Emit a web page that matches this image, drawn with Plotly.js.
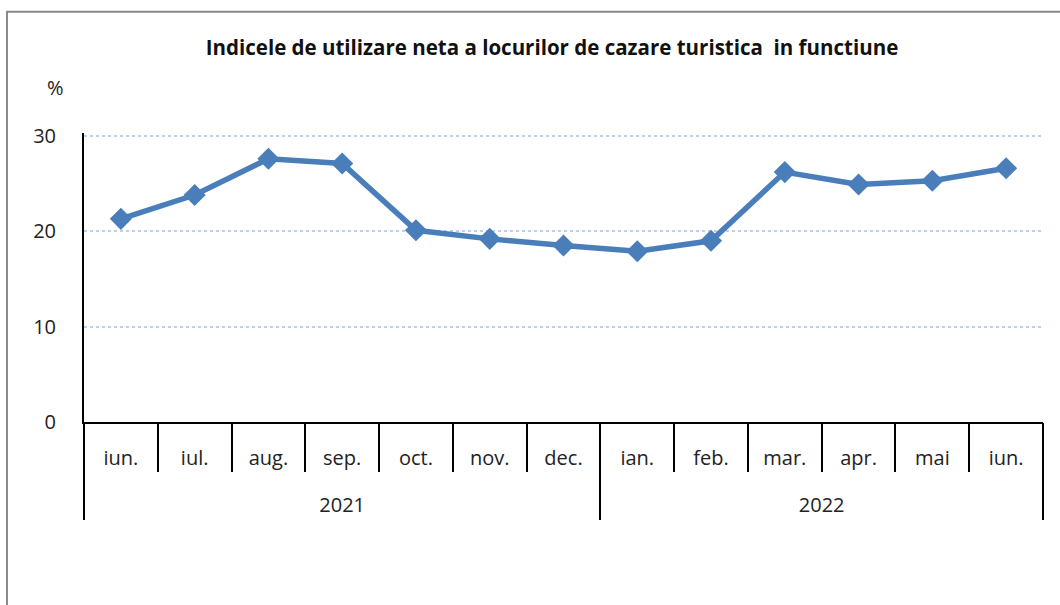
<!DOCTYPE html>
<html>
<head>
<meta charset="utf-8">
<script src="https://cdn.plot.ly/plotly-3.0.1.min.js"></script>
<style>
html,body{margin:0;padding:0;background:#fff;}
#chart{width:1060px;height:605px;}
</style>
</head>
<body>
<div id="chart"></div>
<script>
var months = ["iun.","iul.","aug.","sep.","oct.","nov.","dec.","ian.","feb.","mar.","apr.","mai","iun."];
var years = ["2021","2022"];
var yearSpans = [[0, 6], [7, 12]];
var values = [21.3, 23.8, 27.6, 27.1, 20.1, 19.2, 18.5, 17.9, 19.0, 26.2, 24.9, 25.3, 26.6];
var yTicks = [0, 10, 20, 30];
var titleText = "Indicele de utilizare neta a locurilor de cazare turistica  in functiune";

var fontFam = "Open Sans, Lato, sans-serif";
var idx = months.map(function (m, i) { return i; });
var xr = [-0.5, months.length - 0.5];
var yTop = 30.3;
var pxPerUnit = 286 / 30;
var topMargin = 422 - yTop * pxPerUnit;

// boundaries between months
var monthBounds = [];
for (var i = 0; i <= months.length; i++) monthBounds.push(i - 0.5);
// group boundaries and centres
var groupBounds = [yearSpans[0][0] - 0.5];
var groupCentres = [];
yearSpans.forEach(function (s) { groupBounds.push(s[1] + 0.5); groupCentres.push((s[0] + s[1]) / 2); });

var trace = {
  type: "scatter",
  mode: "lines+markers",
  x: idx,
  y: values,
  line: {color: "#4A7EBB", width: 5.5},
  marker: {symbol: "diamond", size: 17, color: "#4A7EBB"},
  hoverinfo: "skip",
  showlegend: false
};
// invisible carriers so that the overlay axes (separators, year labels) are drawn
function carrier(xa) {
  return {type: "scatter", mode: "lines", x: idx, y: values, xaxis: xa, yaxis: "y",
          line: {width: 0, color: "rgba(0,0,0,0)"}, opacity: 0, hoverinfo: "skip", showlegend: false};
}

var baseX = {range: xr, showgrid: false, zeroline: false, fixedrange: true};
function ax(extra) { return Object.assign({}, baseX, extra); }

var layout = {
  width: 1060, height: 605,
  margin: {l: 84, r: 17, t: topMargin, b: 183},
  paper_bgcolor: "#ffffff",
  plot_bgcolor: "#ffffff",
  font: {family: fontFam, size: 20, color: "#222"},
  title: {text: "<b>" + titleText + "</b>", x: 552 / 1060, xanchor: "center", y: 1 - 48 / 605, yanchor: "middle",
          font: {family: fontFam, size: 20.5, color: "#111"}},
  xaxis: ax({
    tickvals: idx, ticktext: months, ticks: "", ticklabelstandoff: 17,
    showline: true, linecolor: "#000", linewidth: 2,
    tickfont: {family: fontFam, size: 20, color: "#222"}
  }),
  xaxis2: ax({
    overlaying: "x", anchor: "y", side: "bottom",
    tickvals: monthBounds, ticktext: monthBounds.map(function () { return ""; }),
    ticks: "outside", ticklen: 49, tickwidth: 2, tickcolor: "#000", showline: false
  }),
  xaxis3: ax({
    overlaying: "x", anchor: "y", side: "bottom",
    tickvals: groupBounds, ticktext: groupBounds.map(function () { return ""; }),
    ticks: "outside", ticklen: 97, tickwidth: 2, tickcolor: "#000", showline: false
  }),
  xaxis4: ax({
    overlaying: "x", anchor: "y", side: "bottom",
    tickvals: groupCentres, ticktext: years, ticks: "", ticklabelstandoff: 69, showline: false,
    tickfont: {family: fontFam, size: 20, color: "#222"}
  }),
  yaxis: {
    range: [0, yTop], tickvals: yTicks, ticktext: yTicks.map(String),
    showline: true, linecolor: "#000", linewidth: 2, fixedrange: true,
    showgrid: true, gridcolor: "#BCCFEE", griddash: "dot", gridwidth: 2,
    zeroline: false, ticks: "", ticklabelstandoff: 22,
    tickfont: {family: fontFam, size: 20, color: "#222"}
  },
  annotations: [
    {text: "%", xref: "paper", yref: "paper", x: (55 - 84) / 959, y: (422 - 88) / (422 - topMargin),
     xanchor: "center", yanchor: "middle", showarrow: false, font: {family: fontFam, size: 20, color: "#222"}}
  ],
  shapes: [
    {type: "rect", xref: "paper", yref: "paper", x0: (7 - 84) / 959, x1: (1075 - 84) / 959,
     y0: (422 - 620) / (422 - topMargin), y1: (422 - 12) / (422 - topMargin), line: {color: "#8a8a8a", width: 2}, layer: "below"}
  ]
};

Plotly.newPlot("chart", [carrier("x2"), carrier("x3"), carrier("x4"), trace], layout, {staticPlot: true, displayModeBar: false});
</script>
</body>
</html>
